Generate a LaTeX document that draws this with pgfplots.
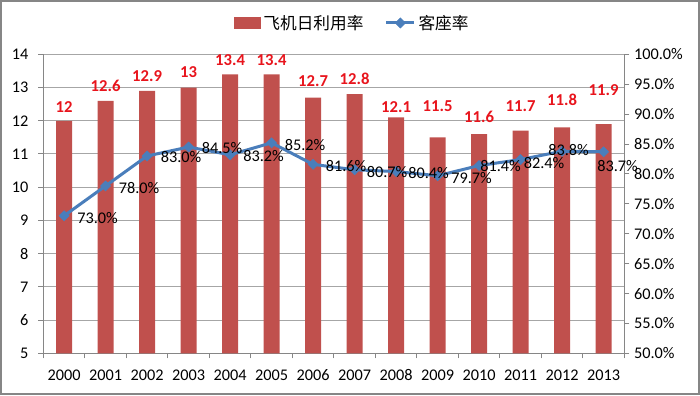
\documentclass[border=0pt]{standalone}
\usepackage{pgfplots}
\pgfplotsset{compat=1.18}
\usepackage{fontspec}
\setmainfont{Carlito}
\newfontfamily\cjk{Noto Sans CJK SC}
\definecolor{barred}{HTML}{C0504D}
\definecolor{lineblue}{HTML}{4A7EBB}
\definecolor{gridgray}{HTML}{A6A6A6}
\definecolor{axgray}{HTML}{868686}
\definecolor{labred}{HTML}{E8141C}
\pgfplotsset{
  lineleg/.style={legend image code/.code={\draw[mark repeat=2,mark phase=2,##1] plot coordinates {(0cm,0cm) (0.37cm,0cm) (0.74cm,0cm)};}},
  barleg/.style={legend image code/.code={\fill[barred] (0pt,-4pt) rectangle (20pt,4pt);}},
}
\begin{document}
\begin{tikzpicture}
\pgfplotsset{
  base/.style={
    width=435.75pt, height=224.25pt, scale only axis,
    at={(0,0)}, anchor=south west,
    xmin=-0.5, xmax=13.5, clip=false,
    tick align=outside,
    major tick length=3.75pt, minor tick length=3.75pt,
    tick label style={font=\fontsize{12.2}{14}\selectfont, text=black},
    axis line style={draw=axgray, line width=0.75pt},
    tick style={draw=axgray, line width=0.75pt},
  }
}
\begin{axis}[base,
  axis y line*=left, axis x line*=bottom,
  ymin=5, ymax=14, ytick={5,...,14},
  yticklabels={5,6,7,8,9,10,11,12,13,14},
  yticklabel style={xshift=-4pt},
  ymajorgrids, grid style={draw=gridgray, line width=0.75pt},
  xtick={0,...,13},
  xticklabels={2000,2001,2002,2003,2004,2005,2006,2007,2008,2009,2010,2011,2012,2013},
  xticklabel style={yshift=-5pt},
  minor xtick={-0.5,0.5,...,13.5},
  major x tick style={draw=none},
]
\addplot[ybar, bar width=12pt, fill=barred, draw=none] coordinates {
(0,12)(1,12.6)(2,12.9)(3,13)(4,13.4)(5,13.4)(6,12.7)(7,12.8)(8,12.1)(9,11.5)(10,11.6)(11,11.7)(12,11.8)(13,11.9)};
\addplot[draw=none, mark=none, nodes near coords, point meta=explicit symbolic,
  every node near coord/.append style={anchor=center, inner sep=0pt, text=labred, font=\bfseries\fontsize{12.5}{14}\selectfont}]
 coordinates {
(0,12.42)[12] (1,13.05)[12.6] (2,13.35)[12.9] (3,13.47)[13] (4,13.83)[13.4] (5,13.83)[13.4]
(6,13.18)[12.7] (7,13.26)[12.8] (8,12.42)[12.1] (9,12.44)[11.5] (10,12.12)[11.6]
(11,12.44)[11.7] (12,12.63)[11.8] (13,12.93)[11.9]};
\end{axis}
\begin{axis}[base,
  axis y line*=right, axis x line=none,
  ymin=50, ymax=100, ytick={50,55,...,100},
  yticklabels={50.0\%,55.0\%,60.0\%,65.0\%,70.0\%,75.0\%,80.0\%,85.0\%,90.0\%,95.0\%,100.0\%},
  legend style={at={(0.532,1.105)}, anchor=center, draw=none, fill=none,
    legend columns=2, font=\cjk\fontsize{12.5}{14}\selectfont,
    /tikz/every even column/.append style={column sep=14pt}},
  legend cell align=left,
]
\addlegendimage{barleg}
\addlegendentry{飞机日利用率}
\addplot[lineblue, line width=2.25pt, mark=square*, mark size=2.65pt,
  mark options={rotate=45, fill=lineblue, draw=lineblue, line width=0.5pt}, lineleg]
 coordinates {(0,73.0)(1,78.0)(2,83.0)(3,84.5)(4,83.2)(5,85.2)(6,81.6)(7,80.7)(8,80.4)(9,79.7)(10,81.4)(11,82.4)(12,83.8)(13,83.7)};
\addlegendentry{客座率}
\addplot[draw=none, mark=none, forget plot, nodes near coords, point meta=explicit symbolic,
  every node near coord/.append style={anchor=center, inner sep=0pt, text=black, font=\fontsize{12.2}{14}\selectfont}]
 coordinates {
(0.806,72.68)[73.0\%] (1.806,77.69)[78.0\%] (2.818,82.78)[83.0\%] (3.806,84.28)[84.5\%]
(4.806,82.99)[83.2\%] (5.806,84.83)[85.2\%] (6.794,81.32)[81.6\%] (7.782,80.27)[80.7\%]
(8.782,80.10)[80.4\%] (9.818,79.26)[79.7\%] (10.517,81.37)[81.4\%] (11.565,81.9)[82.4\%]
(12.155,84.05)[83.8\%] (13.336,81.37)[83.7\%]};
\end{axis}
\draw[axgray, line width=1.5pt] (-31.75pt,-30.55pt) rectangle (491.75pt,264.25pt);
\pgfresetboundingbox
\useasboundingbox (-32.5pt,-31.3pt) rectangle (492.5pt,265pt);
\end{tikzpicture}
\end{document}
